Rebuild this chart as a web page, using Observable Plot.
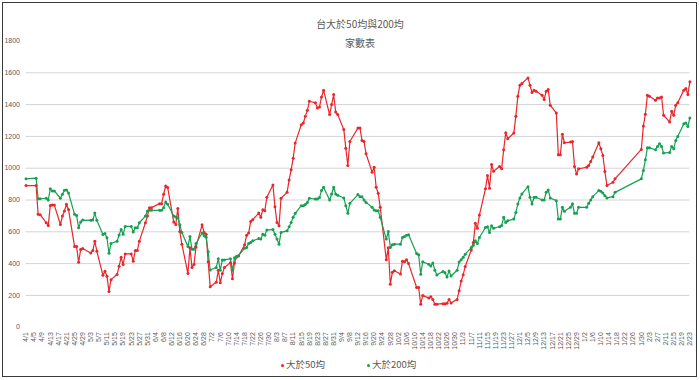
<!DOCTYPE html>
<html><head><meta charset="utf-8">
<script src="https://cdn.jsdelivr.net/npm/d3@7"></script>
<script src="https://cdn.jsdelivr.net/npm/@observablehq/plot@0.6"></script>
<style>
body{margin:0;background:#fff;font-family:"Noto Sans CJK TC","Noto Sans",sans-serif;}
#wrap{position:relative;width:700px;height:380px;overflow:hidden;background:#fff;}
#frame{position:absolute;left:2px;top:2px;width:693px;height:373px;border:1.5px solid #3a3a3a;pointer-events:none;}
.t{position:absolute;left:0;width:720px;text-align:center;color:#595959;font-size:10px;line-height:12px;}
.lg{position:absolute;top:358px;font-size:9.5px;color:#595959;line-height:12px;white-space:nowrap;}
.lg span{display:inline-block;width:3px;height:3px;border-radius:2px;margin-right:2px;vertical-align:middle;}
#chart{position:absolute;left:0;top:0;}
</style></head>
<body>
<div id="wrap">
  <div id="chart"></div>
  <div class="t" id="title" style="top:18px"></div>
  <div class="t" id="subtitle" style="top:37px"></div>
  <div class="lg" id="lg1" style="left:281px"></div>
  <div class="lg" id="lg2" style="left:367px"></div>
  <div id="frame"></div>
</div>
<script>
const titleText = "台大於50均與200均";
const subtitleText = "家數表";
const seriesNames = ["大於50均", "大於200均"];
const seriesColors = ["#e8262b", "#17a052"];

// trading days (4/1 .. 12/31 => 2022, 1/x and 2/x => 2023)
const dates = [
 "4/1","4/6","4/7","4/8","4/11","4/12","4/13","4/14","4/15","4/18","4/19","4/20","4/21","4/22","4/25","4/26","4/27","4/28","4/29",
 "5/3","5/4","5/5","5/6","5/9","5/10","5/11","5/12","5/13","5/16","5/17","5/18","5/19","5/20","5/23","5/24","5/25","5/26","5/27","5/30","5/31",
 "6/1","6/2","6/6","6/7","6/8","6/9","6/10","6/13","6/14","6/15","6/16","6/17","6/20","6/21","6/22","6/23","6/24","6/27","6/28","6/29","6/30",
 "7/1","7/4","7/5","7/6","7/7","7/8","7/11","7/12","7/13","7/14","7/15","7/18","7/19","7/20","7/21","7/22","7/25","7/26","7/27","7/28","7/29",
 "8/1","8/2","8/3","8/4","8/5","8/8","8/9","8/10","8/11","8/12","8/15","8/16","8/17","8/18","8/19","8/22","8/23","8/24","8/25","8/26","8/29","8/30","8/31",
 "9/1","9/2","9/5","9/6","9/7","9/8","9/12","9/13","9/14","9/15","9/16","9/19","9/20","9/21","9/22","9/23","9/26","9/27","9/28","9/29","9/30",
 "10/3","10/4","10/5","10/6","10/7","10/11","10/12","10/13","10/14","10/17","10/18","10/19","10/20","10/21","10/24","10/25","10/26","10/27","10/28","10/31",
 "11/1","11/2","11/3","11/4","11/7","11/8","11/9","11/10","11/11","11/14","11/15","11/16","11/17","11/18","11/21","11/22","11/23","11/24","11/25","11/28","11/29","11/30",
 "12/1","12/2","12/5","12/6","12/7","12/8","12/9","12/12","12/13","12/14","12/15","12/16","12/19","12/20","12/21","12/22","12/23","12/26","12/27","12/28","12/29","12/30",
 "1/3","1/4","1/5","1/6","1/9","1/10","1/11","1/12","1/13","1/16","1/17","1/30","1/31",
 "2/1","2/2","2/3","2/6","2/7","2/8","2/9","2/10","2/13","2/14","2/15","2/16","2/17","2/20","2/21","2/22","2/23"
];

const above50 = [
 891,891,710,708,657,640,766,768,768,646,699,731,773,741,507,507,408,488,495,
 467,482,541,478,326,352,320,225,299,331,383,440,394,461,461,415,482,482,541,657,699,
 752,752,777,777,836,888,878,661,646,747,602,522,337,500,375,395,505,644,596,585,411,
 255,282,358,280,337,375,406,305,404,442,448,518,579,592,665,676,718,691,739,733,817,
 895,758,659,638,811,848,926,990,1063,1158,1274,1284,1326,1364,1421,1411,1379,1385,1448,1491,1337,1400,1463,
 1354,1337,1244,1126,1017,1168,1253,1253,1175,1168,1091,975,1006,880,842,755,424,500,270,345,355,
 335,415,412,425,400,250,250,145,200,183,192,175,145,145,148,148,150,175,152,175,
 230,290,330,382,486,533,653,623,705,870,954,874,1023,981,1011,996,1116,1223,1185,1221,1326,1453,
 1522,1533,1568,1522,1476,1491,1484,1459,1432,1484,1495,1396,1347,1084,1084,1213,1160,1164,1168,1011,964,996,
 1006,1017,1042,1070,1160,1122,1080,979,891,912,933,1118,1265,
 1339,1459,1453,1427,1442,1442,1448,1333,1291,1358,1333,1396,1411,1491,1501,1463,1543
];

const above200 = [
 933,937,808,808,811,800,870,857,857,811,836,861,863,844,710,703,625,661,674,
 672,674,718,672,583,590,562,465,526,541,580,615,585,634,634,598,625,625,657,699,731,
 735,735,735,735,752,787,773,699,693,688,644,596,507,570,491,491,526,592,575,565,474,
 360,376,430,358,423,423,430,358,437,444,450,497,501,526,533,543,558,554,585,579,611,
 615,585,554,522,596,606,632,659,691,716,764,764,771,785,811,806,806,815,859,880,800,838,880,
 838,830,813,764,716,779,834,821,821,800,785,754,737,733,733,691,554,602,501,518,522,
 522,564,571,579,581,463,455,333,411,396,385,404,358,329,350,343,316,354,322,358,
 410,425,440,459,501,516,543,526,564,627,632,596,638,623,632,640,691,659,670,680,722,775,
 813,838,884,817,775,817,817,800,800,849,863,813,796,680,680,754,729,754,777,716,716,754,
 754,779,800,821,859,855,844,827,813,821,848,933,985,
 1053,1128,1128,1116,1137,1154,1137,1095,1099,1137,1122,1175,1200,1280,1284,1263,1316
];

const yTicks = [0,200,400,600,800,1000,1200,1400,1600,1800];
const gridValues = [200,400,600,800,1000,1200,1400,1600];

const parse = s => { const [m, d] = s.split("/").map(Number); return new Date(Date.UTC(m >= 4 ? 2022 : 2023, m - 1, d)); };
const rows = [];
seriesNames.forEach((name, k) => {
  const vals = k === 0 ? above50 : above200;
  dates.forEach((s, i) => rows.push({date: parse(s), value: vals[i], series: name}));
});
const start = parse(dates[0]), end = parse(dates[dates.length - 1]);
const xTicks = d3.utcDay.range(start, d3.utcDay.offset(end, 1), 4);

const chart = Plot.plot({
  width: 700, height: 380,
  marginLeft: 25.5, marginRight: 10.6, marginTop: 40.5, marginBottom: 53.3,
  style: {fontFamily: "'Liberation Sans', Arial, sans-serif", fontSize: "7px", color: "#595959", background: "transparent"},
  x: {type: "utc", domain: [start, end], ticks: xTicks, tickFormat: d => `${d.getUTCMonth() + 1}/${d.getUTCDate()}`,
      tickRotate: -90, tickSize: 0, tickPadding: 5, label: null},
  y: {domain: [0, 1800], ticks: yTicks, tickFormat: d => String(d), tickSize: 0, tickPadding: 6, label: null},
  color: {domain: seriesNames, range: seriesColors},
  marks: [
    Plot.ruleY(gridValues, {stroke: "#d4d4d4", strokeWidth: 1}),
    Plot.line(rows, {x: "date", y: "value", z: "series", stroke: "series", strokeWidth: 1.2}),
    Plot.dot(rows, {x: "date", y: "value", fill: "series", r: 1.5, stroke: null})
  ]
});
document.getElementById("chart").appendChild(chart);
document.getElementById("title").textContent = titleText;
document.getElementById("subtitle").textContent = subtitleText;
[["lg1", 0], ["lg2", 1]].forEach(([id, k]) => {
  const el = document.getElementById(id);
  const dot = document.createElement("span");
  dot.style.background = seriesColors[k];
  el.appendChild(dot);
  el.appendChild(document.createTextNode(seriesNames[k]));
});
</script>
</body></html>
